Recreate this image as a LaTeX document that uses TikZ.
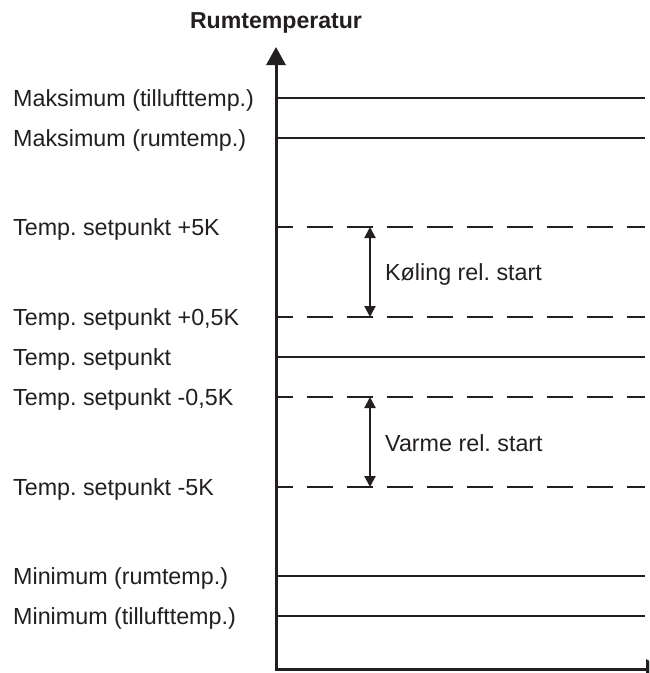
\documentclass[tikz,border=0pt]{standalone}
\usepackage{fontspec}
\setmainfont{Liberation Sans}
\usetikzlibrary{arrows.meta}
\definecolor{ink}{HTML}{231F20}
\frenchspacing
\begin{document}
\begin{tikzpicture}[x=1pt,y=-1pt,
  lbl/.style={anchor=base west, inner sep=0pt, font=\fontsize{23.3}{27}\selectfont, text=ink},
  ttl/.style={anchor=base, inner sep=0pt, font=\fontsize{23.1}{27}\selectfont\bfseries, text=ink},
  level/.style={draw=ink, line width=1.3pt},
  dashlevel/.style={level, dash pattern=on 26pt off 14pt, dash phase=9.3pt},
  axisline/.style={draw=ink, line width=3pt, line join=miter},
  bigtip/.tip={Triangle[length=18pt,width=19pt]},
  smalltip/.tip={Triangle[length=11pt,width=11pt]},
  spanarrow/.style={draw=ink, line width=2.1pt, smalltip-smalltip}
]
\clip (0,0) rectangle (649,673);

% axes
\coordinate (top) at (276,47);
\coordinate (origin) at (276,669);
\coordinate (right) at (664,669);
\draw[axisline, bigtip-bigtip] (top) -- (origin) -- (right);

% title
\node[ttl] (title) at (276,28) {Rumtemperatur};

% levels
\foreach \y/\txt/\sty/\n in {
  98/{Maksimum (tillufttemp.)}/level/1,
  138/{Maksimum (rumtemp.)}/level/2,
  227/{Temp. setpunkt +5K}/dashlevel/3,
  317/{Temp. setpunkt +0,5K}/dashlevel/4,
  357/{Temp. setpunkt}/level/5,
  397/{Temp. setpunkt -0,5K}/dashlevel/6,
  487/{Temp. setpunkt -5K}/dashlevel/7,
  576/{Minimum (rumtemp.)}/level/8,
  616/{Minimum (tillufttemp.)}/level/9}{
  \coordinate (a\n) at (276,\y);
  \coordinate (b\n) at (645,\y);
  \draw[\sty] (a\n) -- (b\n);
  \node[lbl] (l\n) at (13,\y+8.4) {\txt};
}

% range arrows
\coordinate (k1) at (370,227);
\coordinate (k2) at (370,317);
\draw[spanarrow] (k1) -- (k2);
\node[lbl] (koel) at (385,280.5) {Køling rel. start};

\coordinate (v1) at (370,397);
\coordinate (v2) at (370,487);
\draw[spanarrow] (v1) -- (v2);
\node[lbl] (varme) at (385,451) {Varme rel. start};
\end{tikzpicture}
\end{document}
